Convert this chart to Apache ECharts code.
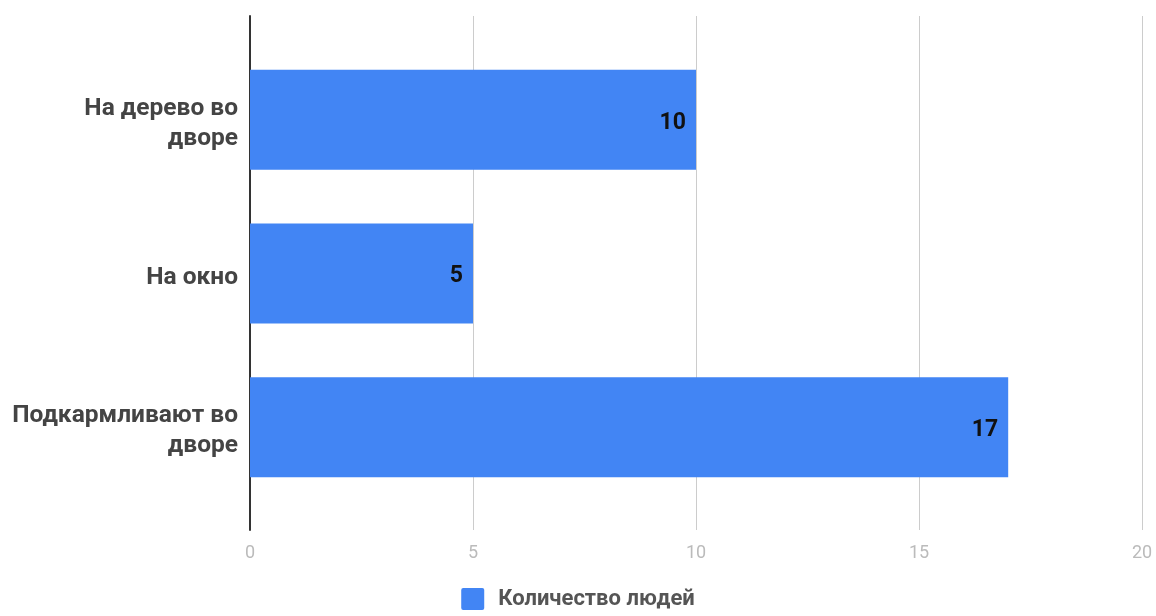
<!DOCTYPE html>
<html><head><meta charset="utf-8">
<script src="https://cdn.jsdelivr.net/npm/echarts@6/dist/echarts.min.js"></script>
<style>html,body{margin:0;padding:0;background:#fff}#c{width:1156px;height:616px}</style>
</head><body><div id="c"></div>
<script>
const categories = ['На дерево во\nдворе', 'На окно', 'Подкармливают во\nдворе'];
const values = [10, 5, 17];
const seriesName = 'Количество людей';
const xTicks = [0, 5, 10, 15, 20];

const chart = echarts.init(document.getElementById('c'));
chart.setOption({
  animation: false,
  textStyle: { fontFamily: 'Roboto' },
  grid: [
    { left: 250, right: 14, top: 16, bottom: 86, containLabel: false },
    { left: 250, right: 14, top: 43, bottom: 112, containLabel: false },
    { left: 250, right: 14, top: 47, bottom: 108, containLabel: false }
  ],
  legend: {
    bottom: 1, left: 'center', itemWidth: 23, itemHeight: 22, itemGap: 17,
    icon: 'path://M2,0 H21 A2,2 0 0 1 23,2 V20 A2,2 0 0 1 21,22 H2 A2,2 0 0 1 0,20 V2 A2,2 0 0 1 2,0 Z',
    textStyle: { fontSize: 22, fontWeight: 'bold', color: '#555', fontFamily: 'Roboto', padding: [0, 0, 0, 9] },
    data: [seriesName]
  },
  xAxis: [{
    gridIndex: 0, type: 'value', min: xTicks[0], max: xTicks[xTicks.length - 1], interval: 5,
    axisLine: { show: false }, axisTick: { show: false },
    splitLine: { lineStyle: { color: '#ccc', width: 1 } },
    axisLabel: { color: '#bbb', fontSize: 18, margin: 14 }
  }, {
    gridIndex: 1, type: 'value', min: xTicks[0], max: xTicks[xTicks.length - 1], interval: 5,
    show: false
  }, {
    gridIndex: 2, type: 'value', min: xTicks[0], max: xTicks[xTicks.length - 1], interval: 5,
    show: false
  }],
  yAxis: [{
    gridIndex: 0, type: 'value', min: 0, max: 1,
    axisLine: { show: true, lineStyle: { color: '#333', width: 2 } },
    axisTick: { show: false }, axisLabel: { show: false }, splitLine: { show: false }
  }, {
    gridIndex: 1, type: 'category', data: categories, inverse: true,
    axisLine: { show: false }, axisTick: { show: false }, axisLabel: { show: false }
  }, {
    gridIndex: 2, type: 'category', data: categories, inverse: true,
    axisLine: { show: false },
    axisTick: { show: false },
    axisLabel: { color: '#444', fontSize: 24.5, fontWeight: 'bold', margin: 12, lineHeight: 30, align: 'right' }
  }],
  series: [{
    name: seriesName, type: 'bar', data: values, barWidth: 100,
    xAxisIndex: 1, yAxisIndex: 1,
    itemStyle: { color: '#4285f4' },
    label: { show: true, position: 'insideRight', distance: 10, offset: [0, 3], color: '#111', fontSize: 23, fontWeight: 'bold' }
  }]
});
</script></body></html>
